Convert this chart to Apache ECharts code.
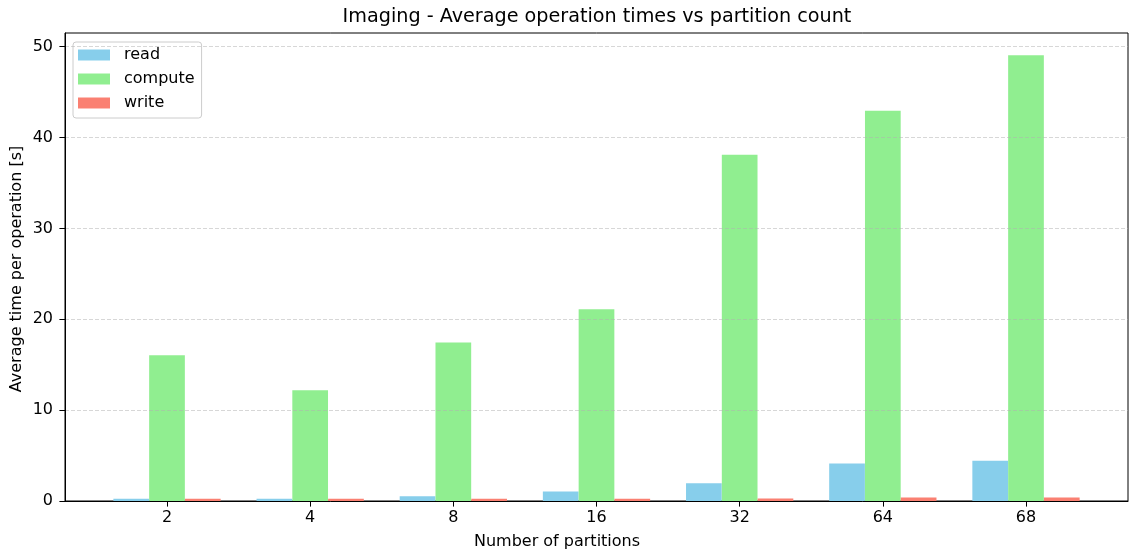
<!DOCTYPE html>
<html><head><meta charset="utf-8">
<script src="https://cdn.jsdelivr.net/npm/echarts@6/dist/echarts.min.js"></script>
<style>html,body{margin:0;padding:0;background:#fff}#c{width:1130px;height:554px}</style>
</head><body><div id="c"></div>
<script>
const categories = ['2', '4', '8', '16', '32', '64', '68'];
const readTimes = [0.26, 0.25, 0.52, 1.05, 1.95, 4.12, 4.42];
const computeTimes = [16.05, 12.2, 17.45, 21.1, 38.1, 42.95, 49.05];
const writeTimes = [0.26, 0.26, 0.26, 0.26, 0.27, 0.38, 0.38];
const yTicks = [0, 10, 20, 30, 40, 50];

const FONT = 'DejaVu Sans';
const barW = 0.25; // bar width in category units (matplotlib style)
const idx = categories.map((_, i) => i);
function seriesData(vals, k) { return vals.map((v, i) => [i + (k - 1) * barW, v]); }

const chart = echarts.init(document.getElementById('c'), null, { renderer: 'canvas' });
const axisText = { color: '#000', fontFamily: FONT, fontSize: 16 };
chart.setOption({
  animation: false,
  backgroundColor: '#fff',
  grid: { left: 65, right: 2, top: 33, bottom: 53, show: true, borderColor: '#000', borderWidth: 1, backgroundColor: 'transparent' },
  legend: {
    orient: 'vertical', left: 73, top: 42,
    padding: [5, 7, 7, 5], itemGap: 8, itemWidth: 32, itemHeight: 11,
    backgroundColor: 'rgba(255,255,255,0.8)', borderColor: '#cccccc', borderWidth: 1, borderRadius: 3,
    icon: 'rect',
    textStyle: { color: '#000', fontFamily: FONT, fontSize: 16, padding: [0, 0, 0, 9] },
    data: ['read', 'compute', 'write']
  },
  graphic: [
    { type: 'text', x: 597, y: 17, style: { text: 'Imaging - Average operation times vs partition count', font: '19.2px "DejaVu Sans"', fill: '#000', align: 'center', verticalAlign: 'middle' } },
    { type: 'text', x: 557, y: 542, style: { text: 'Number of partitions', font: '16px "DejaVu Sans"', fill: '#000', align: 'center', verticalAlign: 'middle' } },
    { type: 'text', x: 17, y: 269, rotation: Math.PI / 2, style: { text: 'Average time per operation [s]', font: '16px "DejaVu Sans"', fill: '#000', align: 'center', verticalAlign: 'middle' } }
  ],
  xAxis: {
    type: 'value', min: -0.7125, max: 6.7125, z: 5,
    axisLine: { show: true, onZero: false, lineStyle: { color: '#000', width: 1 } },
    axisTick: { show: true, customValues: idx, length: 5.6, lineStyle: { color: '#000', width: 1 } },
    axisLabel: { customValues: idx, margin: 9, formatter: v => categories[Math.round(v)], ...axisText },
    splitLine: { show: false }
  },
  yAxis: {
    type: 'value', min: 0, max: 51.5, interval: 10, z: 5,
    axisLine: { show: true, onZero: false, lineStyle: { color: '#000', width: 1 } },
    axisTick: { show: true, customValues: yTicks, length: 5.6, lineStyle: { color: '#000', width: 1 } },
    axisLabel: { customValues: yTicks, margin: 12, ...axisText },
    splitLine: { show: true, lineStyle: { color: 'rgba(176,176,176,0.5)', width: 1, type: [4, 2] } }
  },
  series: [
    { name: 'read', type: 'bar', barWidth: 35.7, barGap: '-100%', itemStyle: { color: '#87ceeb' }, data: seriesData(readTimes, 0) },
    { name: 'compute', type: 'bar', barWidth: 35.7, barGap: '-100%', itemStyle: { color: '#90ee90' }, data: seriesData(computeTimes, 1) },
    { name: 'write', type: 'bar', barWidth: 35.7, barGap: '-100%', itemStyle: { color: '#fa8072' }, data: seriesData(writeTimes, 2) }
  ]
});
</script></body></html>
